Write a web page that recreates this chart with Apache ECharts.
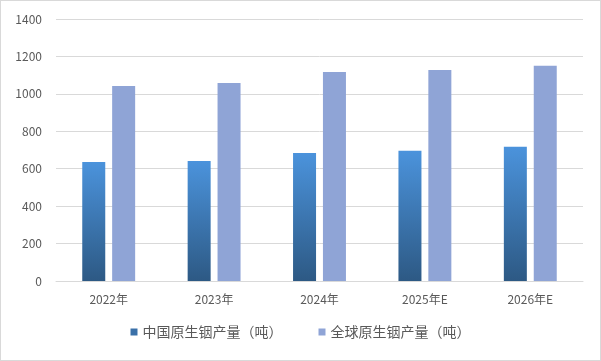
<!DOCTYPE html>
<html><head><meta charset="utf-8">
<script src="https://cdn.jsdelivr.net/npm/echarts@6/dist/echarts.min.js"></script>
<style>html,body{margin:0;padding:0;background:#fff}#c{width:601px;height:361px;box-sizing:border-box;border:1px solid #d9d9d9}</style>
</head><body><div id="c"></div>
<script>
var categories = ['2022年','2023年','2024年','2025年E','2026年E'];
var chinaValues = [636, 641, 684, 696, 718];
var globalValues = [1042, 1058, 1117, 1127, 1150];
var yTicks = [0, 200, 400, 600, 800, 1000, 1200, 1400];
var seriesNames = ['中国原生铟产量（吨）', '全球原生铟产量（吨）'];

var chart = echarts.init(document.getElementById('c'), null, {renderer:'canvas'});
var font = '"Noto Sans CJK SC", "Microsoft YaHei", sans-serif';
chart.setOption({
  animation:false,
  textStyle:{fontFamily:font},
  grid:{left:55, right:17, top:18, bottom:79},
  legend:{
    bottom:16, left:'center', itemWidth:7, itemHeight:7, itemGap:36,
    textStyle:{color:'#595959', fontSize:14, fontFamily:font},
    data:[{name:seriesNames[0], icon:'rect', itemStyle:{color:'#3a70a8'}}, {name:seriesNames[1], icon:'rect'}]
  },
  xAxis:{
    type:'category', data:categories,
    axisLine:{lineStyle:{color:'#d9d9d9'}}, axisTick:{show:false},
    axisLabel:{color:'#595959', fontSize:12, margin:12}
  },
  yAxis:{
    type:'value', min:yTicks[0], max:yTicks[yTicks.length-1], interval:200,
    axisLine:{show:false}, axisTick:{show:false},
    splitLine:{lineStyle:{color:'#d9d9d9'}},
    axisLabel:{color:'#595959', fontSize:12, margin:14, formatter:function(v){return String(v);}}
  },
  series:[
    {name:seriesNames[0], type:'bar', data:chinaValues, barWidth:23, barGap:'30%',
     itemStyle:{color:new echarts.graphic.LinearGradient(0,0,0,1,[{offset:0,color:'#4b93dc'},{offset:1,color:'#2d5984'}])}},
    {name:seriesNames[1], type:'bar', data:globalValues, barWidth:23,
     itemStyle:{color:'#8fa4d6'}}
  ]
});
</script></body></html>
